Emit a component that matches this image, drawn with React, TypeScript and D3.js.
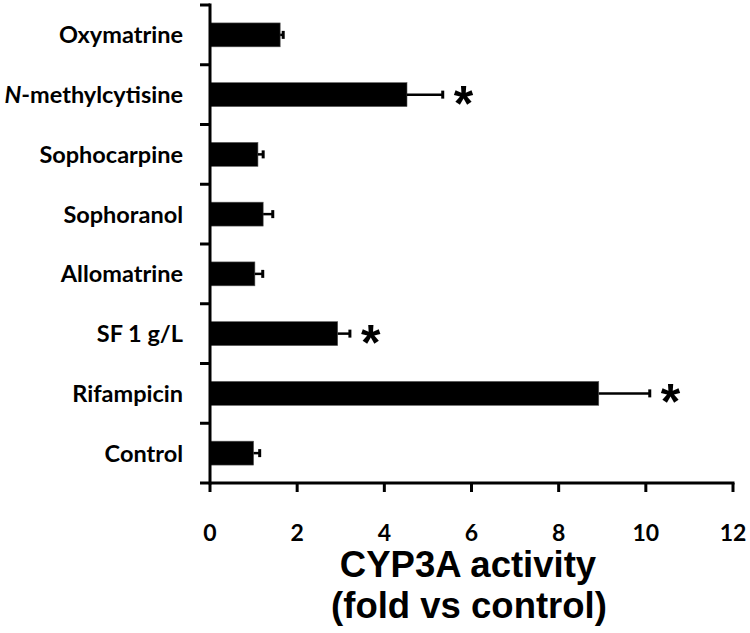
import React from "react"
import * as d3 from "d3"

const categories = ["Oxymatrine", "N-methylcytisine", "Sophocarpine", "Sophoranol", "Allomatrine", "SF 1 g/L", "Rifampicin", "Control"]
const activity = [1.61, 4.52, 1.10, 1.22, 1.03, 2.93, 8.92, 1.0]
const errors = [0.07, 0.82, 0.12, 0.22, 0.18, 0.28, 1.17, 0.14]
const significant = [false, true, false, false, false, true, true, false]
const xTicks = [0, 2, 4, 6, 8, 10, 12]

const W = 750
const H = 633
const labelFont = "Lato, 'Open Sans', sans-serif"
const titleFont = "'Liberation Sans', Arial, sans-serif"

const App = () => {
  const x = d3.scaleLinear().domain([0, 12]).range([210, 733])
  const y = d3.scaleBand<string>().domain(categories).range([5, 483]).paddingInner(0.6).paddingOuter(0.3)

  const step = y.step()
  const top = 5
  const bottom = 483
  const bandTicks = d3.range(categories.length + 1).map(i => top + i * step)

  return (
    <svg width={W} height={H} style={{ position: "absolute", left: 0, top: 0, background: "#fff" }}>
      {/* bars */}
      {categories.map((c, i) => (
        <rect key={c} x={x(0)} y={y(c)} width={x(activity[i]) - x(0)} height={y.bandwidth()} fill="#000" stroke="#555" strokeWidth={0.6} />
      ))}

      {/* error bars, plus side only */}
      {categories.map((c, i) => {
        const cy = (y(c) as number) + y.bandwidth() / 2
        const x1 = x(activity[i])
        const x2 = x(activity[i] + errors[i])
        return (
          <g key={"e" + c}>
            <line x1={x1} x2={x2} y1={cy} y2={cy} stroke="#000" strokeWidth={2.5} />
            <line x1={x2} x2={x2} y1={cy - 4} y2={cy + 4} stroke="#000" strokeWidth={3} />
          </g>
        )
      })}

      {/* asterisks */}
      {categories.map((c, i) => significant[i] ? (
        <text key={"s" + c} x={x(activity[i] + errors[i]) + 11} y={(y(c) as number) + y.bandwidth() / 2 + 26}
          fontFamily={titleFont} fontWeight={700} fontSize={50} fill="#000">*</text>
      ) : null)}

      {/* y axis */}
      <line x1={x(0)} x2={x(0)} y1={top - 1.5} y2={bottom + 1.5} stroke="#000" strokeWidth={3} />
      {bandTicks.map((t, i) => (
        <line key={"yt" + i} x1={x(0) - 10} x2={x(0)} y1={t} y2={t} stroke="#000" strokeWidth={3} />
      ))}
      {categories.map(c => (
        <text key={"l" + c} x={183} y={(y(c) as number) + y.bandwidth() / 2 + 8.5} textAnchor="end"
          fontFamily={labelFont} fontWeight={700} fontSize={23.5} fill="#000">
          {c.startsWith("N-") ? (<><tspan fontStyle="italic">N</tspan>{c.slice(1)}</>) : c}
        </text>
      ))}

      {/* x axis */}
      <line x1={x(0)} x2={x(12) + 1.5} y1={bottom} y2={bottom} stroke="#000" strokeWidth={3} />
      {xTicks.map(t => (
        <g key={"xt" + t}>
          <line x1={x(t)} x2={x(t)} y1={bottom} y2={bottom + 9} stroke="#000" strokeWidth={3} />
          <text x={x(t)} y={541} textAnchor="middle" fontFamily={labelFont} fontWeight={700} fontSize={23} fill="#000">{t}</text>
        </g>
      ))}

      {/* axis title */}
      <text x={468} y={577} textAnchor="middle" fontFamily={titleFont} fontWeight={700} fontSize={36.5} fill="#000">CYP3A activity</text>
      <text x={469} y={618} textAnchor="middle" fontFamily={titleFont} fontWeight={700} fontSize={36.5} fill="#000">(fold vs control)</text>
    </svg>
  )
}

export default App
